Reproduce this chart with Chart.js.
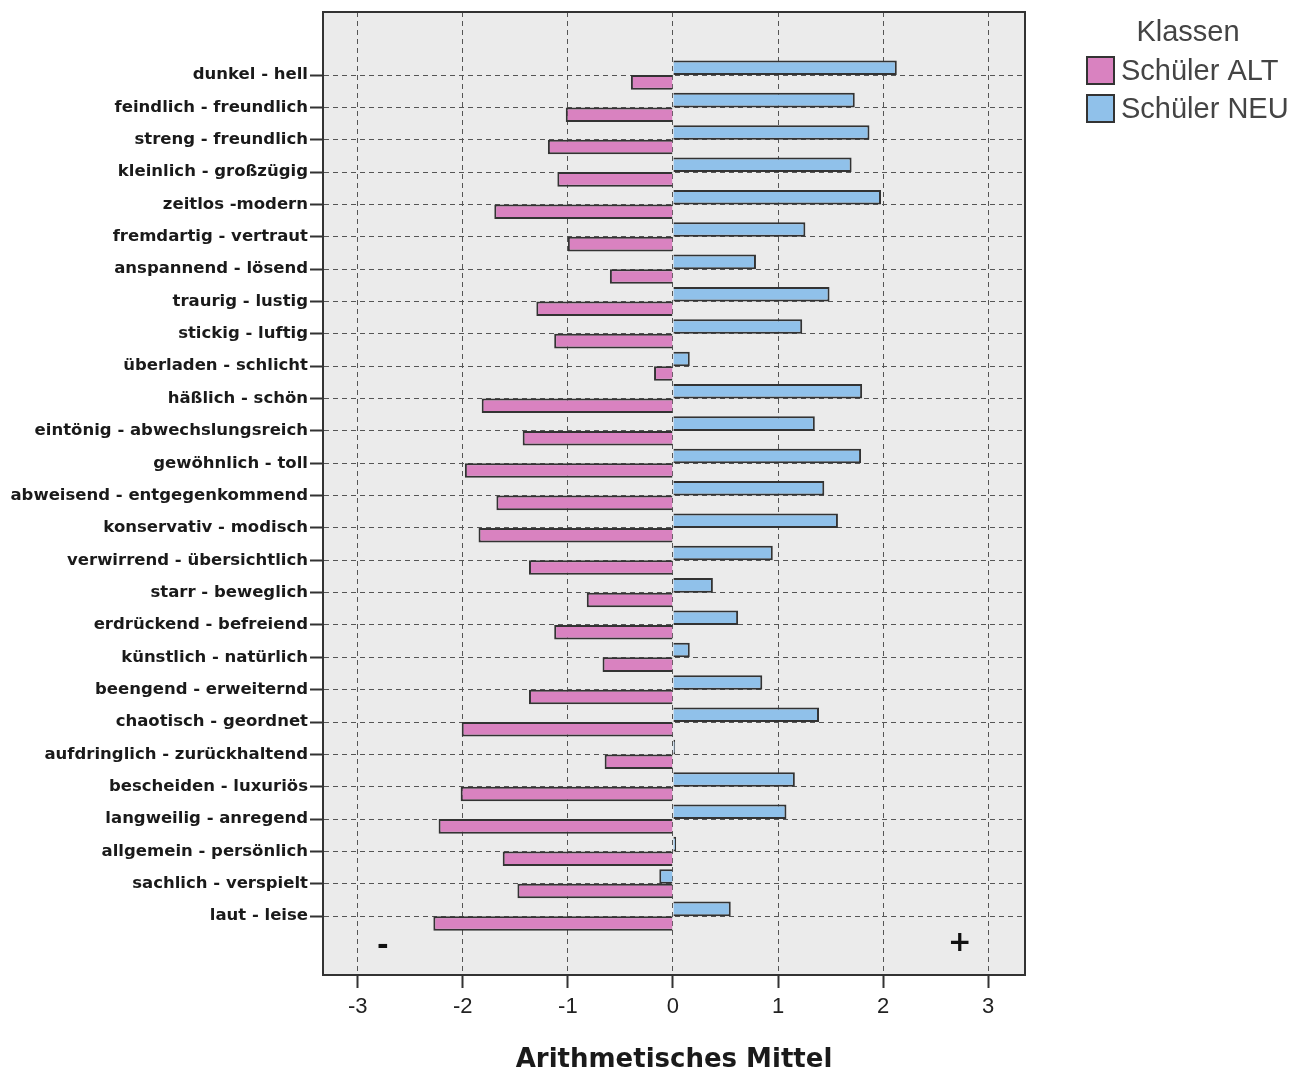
<!DOCTYPE html>
<html>
<head>
<meta charset="utf-8">
<script src="https://cdn.jsdelivr.net/npm/chart.js@4/dist/chart.umd.min.js"></script>
<style>
  html, body { margin: 0; padding: 0; background: #fff; }
  #wrap { width: 1304px; height: 1076px; position: relative; }
</style>
</head>
<body>
<div id="wrap"><canvas id="chart" width="1304" height="1076"></canvas></div>
<script>
// ---- data ----
const CATEGORIES = [
  'dunkel - hell', 'feindlich - freundlich', 'streng - freundlich', 'kleinlich - großzügig',
  'zeitlos -modern', 'fremdartig - vertraut', 'anspannend - lösend', 'traurig - lustig',
  'stickig - luftig', 'überladen - schlicht', 'häßlich - schön', 'eintönig - abwechslungsreich',
  'gewöhnlich - toll', 'abweisend - entgegenkommend', 'konservativ - modisch',
  'verwirrend - übersichtlich', 'starr - beweglich', 'erdrückend - befreiend',
  'künstlich - natürlich', 'beengend - erweiternd', 'chaotisch - geordnet',
  'aufdringlich - zurückhaltend', 'bescheiden - luxuriös', 'langweilig - anregend',
  'allgemein - persönlich', 'sachlich - verspielt', 'laut - leise'
];
const ALT = [
  -0.40, -1.02, -1.19, -1.10, -1.70, -1.00, -0.60, -1.30, -1.13, -0.18, -1.82, -1.43, -1.98, -1.68,
  -1.85, -1.37, -0.82, -1.13, -0.67, -1.37, -2.01, -0.65, -2.02, -2.23, -1.62, -1.48, -2.28
];
const NEU = [
  2.13, 1.73, 1.87, 1.70, 1.98, 1.26, 0.79, 1.49, 1.23, 0.16, 1.80, 1.35, 1.79, 1.44,
  1.57, 0.95, 0.38, 0.62, 0.16, 0.85, 1.39, 0.02, 1.16, 1.08, 0.03, -0.13, 0.55
];
const X_TICKS = [-3, -2, -1, 0, 1, 2, 3];
const LEGEND_TITLE = 'Klassen';
const SERIES_NAMES = ['Schüler ALT', 'Schüler NEU'];
const POLES = ['-', '+'];

const PINK = '#d982c0';
const BLUE = '#90c1ea';
const LINE = '#333';

function toPoints(values) {
  return values.map((v, i) => ({ x: v, y: i }));
}

// grey plot background + frame
const plotFrame = {
  id: 'plotFrame',
  beforeDraw(chart) {
    const { ctx, chartArea: a } = chart;
    ctx.save();
    ctx.fillStyle = '#ebebeb';
    ctx.fillRect(a.left, a.top, a.right - a.left, a.bottom - a.top);
    ctx.restore();
  },
  afterDraw(chart) {
    const { ctx, chartArea: a, scales } = chart;
    ctx.save();
    ctx.strokeStyle = '#333';
    ctx.lineWidth = 2;
    ctx.strokeRect(a.left, a.top, a.right - a.left, a.bottom - a.top);

    // pole markers "-" and "+"
    ctx.fillStyle = '#111';
    ctx.font = 'bold 28px "DejaVu Sans"';
    ctx.textAlign = 'center';
    ctx.textBaseline = 'middle';
    const yp = scales.y.getPixelForValue(26.85);
    ctx.fillText(POLES[0], scales.x.getPixelForValue(-2.76), yp + 3);
    ctx.fillText(POLES[1], scales.x.getPixelForValue(2.73), yp);

    // legend
    const lx = 1087, ly = 57, box = 27, gap = 38;
    ctx.fillStyle = '#444';
    ctx.font = '29px "Liberation Sans"';
    ctx.textAlign = 'center';
    ctx.textBaseline = 'middle';
    ctx.fillText(LEGEND_TITLE, 1188, 33);
    ctx.textAlign = 'left';
    const order = [1, 0]; // ALT first
    order.forEach((di, k) => {
      const ds = chart.data.datasets[di];
      const y = ly + k * gap;
      ctx.fillStyle = ds.backgroundColor;
      ctx.fillRect(lx, y, box, box);
      ctx.strokeStyle = LINE;
      ctx.lineWidth = 2;
      ctx.strokeRect(lx, y, box, box);
      ctx.fillStyle = '#444';
      ctx.fillText(ds.label, lx + box + 7, y + box / 2 + 1);
    });
    ctx.restore();
  }
};

new Chart(document.getElementById('chart'), {
  type: 'bar',
  data: {
    datasets: [
      { label: SERIES_NAMES[1], data: toPoints(NEU), backgroundColor: BLUE, borderColor: LINE, borderWidth: 2 },
      { label: SERIES_NAMES[0], data: toPoints(ALT), backgroundColor: PINK, borderColor: LINE, borderWidth: 2 }
    ]
  },
  options: {
    indexAxis: 'y',
    responsive: false,
    animation: false,
    categoryPercentage: 0.9,
    barPercentage: 1.0,
    layout: { padding: { top: 12, right: 279, bottom: 0, left: 0 } },
    plugins: {
      legend: { display: false },
      tooltip: { enabled: false }
    },
    scales: {
      x: {
        type: 'linear',
        min: -3.33,
        max: 3.35,
        z: 1,
        afterFit: s => { s.height = 101; },
        afterBuildTicks: s => { s.ticks = X_TICKS.map(v => ({ value: v })); },
        ticks: {
          stepSize: 1,
          includeBounds: false,
          color: '#222',
          font: { family: 'Liberation Sans', size: 22 },
          padding: 6
        },
        grid: {
          color: '#555',
          lineWidth: 1,
          tickLength: 13,
          tickColor: '#333',
          tickWidth: 2
        },
        border: { display: true, color: '#333', width: 2, dash: [5, 4] },
        title: {
          display: true,
          text: 'Arithmetisches Mittel',
          color: '#1a1a1a',
          font: { family: 'DejaVu Sans', size: 26, weight: 'bold' },
          padding: { top: 0, bottom: 0 }
        }
      },
      y: {
        type: 'linear',
        reverse: true,
        offset: false,
        min: -1.95,
        max: 27.82,
        afterFit: s => { s.width = 323; },
        afterBuildTicks: s => {
          s.ticks = CATEGORIES.map((c, i) => ({ value: i }));
        },
        ticks: {
          stepSize: 1,
          autoSkip: false,
          includeBounds: false,
          color: '#1a1a1a',
          font: { family: 'DejaVu Sans', size: 16.5, weight: 'bold' },
          padding: 2,
          callback: v => CATEGORIES[v]
        },
        grid: {
          offset: false,
          color: '#555',
          lineWidth: 1,
          tickLength: 13,
          tickColor: '#333',
          tickWidth: 2
        },
        border: { display: true, color: '#333', width: 2, dash: [5, 4] }
      }
    }
  },
  plugins: [plotFrame]
});
</script>
</body>
</html>
